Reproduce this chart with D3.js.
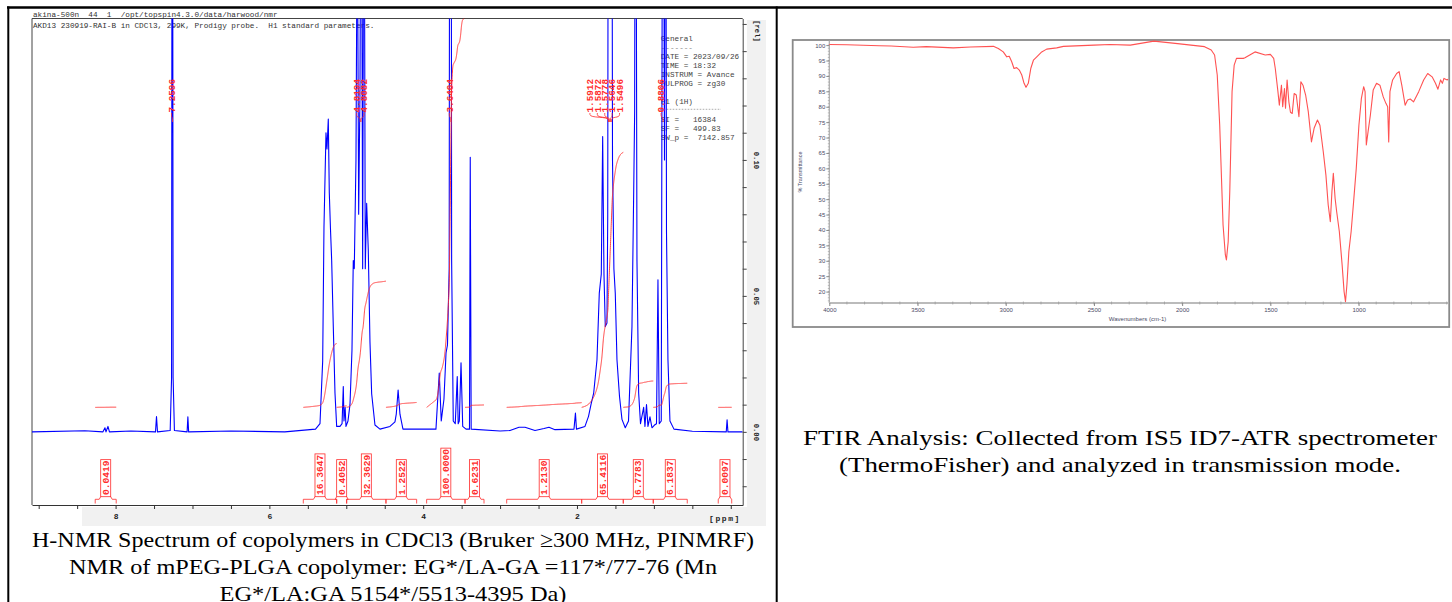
<!DOCTYPE html>
<html><head><meta charset="utf-8">
<script src="https://cdn.jsdelivr.net/npm/d3@7"></script>
<style>
html,body{margin:0;padding:0;background:#fff;}
svg{display:block;}
</style></head>
<body>
<svg id="c" width="1452" height="602"></svg>
<script>
// ================= DATA =================
// 1H NMR spectrum (ppm, relative intensity); values above 0.15 are off-scale (clipped)
const nmrPpm = [9.087,8.40,8.164,8.138,8.125,8.099,8.08,7.80,7.481,7.468,7.455,7.29,7.272,7.262,7.252,7.235,7.07,7.06,7.05,6.5,5.8,
 5.40,5.342,5.307,5.290,5.264,5.251,5.234,5.221,5.206,5.190,5.169,5.147,5.125,5.082,5.055,5.039,5.030,5.015,5.004,4.978,4.952,4.926,
 4.909,4.896,4.874,4.857,4.839,4.822,4.805,4.787,4.770,4.753,4.735,4.714,4.692,4.670,4.627,4.562,4.432,4.367,4.35,4.326,4.302,4.263,
 3.834,3.791,3.765,3.730,3.703,3.684,3.662,3.652,3.640,3.630,3.609,3.583,3.557,3.545,3.530,3.508,3.486,3.443,3.398,3.388,3.376,
 3.0,2.871,2.754,2.676,2.546,2.429,2.364,2.286,2.039,2.020,2.007,1.896,1.850,1.818,1.783,1.740,1.710,1.684,1.666,1.649,1.632,1.610,
 1.600,1.5912,1.589,1.5872,1.582,1.5778,1.571,1.5646,1.557,1.5496,1.538,1.520,1.502,1.480,1.447,1.415,1.372,1.330,1.285,1.263,1.250,
 1.239,1.220,1.198,1.174,1.133,1.116,1.096,1.077,1.051,1.025,0.992,0.966,0.947,0.930,0.904,0.882,0.862,0.849,0.836,0.817,0.791,0.739,
 0.5,0.059,0.048,0.037,-0.155];
const nmrInt = [0,0.0004,0,0.0015,0,0.002,0,0.0003,0,0.0056,0,0.0005,0.02,0.35,0.02,0.0005,0,0.0055,0,0.0003,0,
 0.001,0.003,0.026,0.0755,0.11,0.104,0.115,0.088,0.075,0.063,0.0387,0.0143,0.002,0.002,0.003,0.0167,0.004,0.009,0.002,0.004,0.01,0.03,
 0.063,0.06,0.10,0.20,0.08,0.125,0.25,0.06,0.25,0.06,0.084,0.067,0.033,0.014,0.0025,0.001,0.002,0.0037,0.0065,0.0154,0.0065,0.001,
 0.001,0.0216,0.004,0.012,0.029,0.032,0.06,0.35,0.35,0.063,0.004,0.003,0.0203,0.003,0.004,0.0254,0.002,0.001,0.001,0.101,0.001,
 0.0003,0.0005,0.0017,0.0017,0.0005,0.0012,0.0017,0.0008,0.001,0.0069,0.001,0.002,0.0057,0.01,0.0142,0.0265,0.051,0.058,0.1086,0.058,0.0387,0.04,
 0.08,0.3,0.22,0.3,0.22,0.3,0.2,0.3,0.2,0.3,0.1,0.06,0.051,0.0265,0.013,0.0046,0.0015,0.004,0.0387,0.087,0.118,
 0.3,0.063,0.0143,0.003,0.009,0.002,0.01,0.002,0.0055,0.0015,0.0025,0.003,0.0559,0.003,0.004,0.3,0.1,0.3,0.0735,0.0265,0.004,0.001,
 0.0002,0,0.0044,0,0];

// integrals (ppm range and value)
const integralFrom  = [8.265,5.559,5.125,4.995,4.484,3.955,3.456,2.914,1.939,1.398,1.008,0.163];
const integralTo    = [7.992,5.125,4.995,4.484,4.085,3.456,3.209,1.939,1.398,1.008,0.566,-0.012];
const integralValue = [0.0419,16.3647,0.4052,32.3629,1.2522,100.0000,0.6231,1.2130,65.4116,6.7783,6.1837,0.0097];
const integralText  = ["0.0419","16.3647","0.4052","32.3629","1.2522","100.0000","0.6231","1.2130","65.4116","6.7783","6.1837","0.0097"];

// picked peaks
const peakLabels = ["7.2596","4.8194","4.8082","3.6404","1.5912","1.5872","1.5778","1.5646","1.5496","0.8806"];

// NMR axis ticks
const nmrXTicks = [9,8.5,8,7.5,7,6.5,6,5.5,5,4.5,4,3.5,3,2.5,2,1.5,1,0.5,0];
const nmrXTickLabels = [8,6,4,2];
const nmrYTicks = [-0.02,-0.01,0,0.01,0.02,0.03,0.04,0.05,0.06,0.07,0.08,0.09,0.10,0.11,0.12,0.13,0.14,0.15];
const nmrYTickLabels = [0,0.05,0.10];

// acquisition text
const headerLines = ["akina-500n  44  1  /opt/topspin4.3.0/data/harwood/nmr",
  "AKD13 230919-RAI-B in CDCl3, 299K, Prodigy probe.  H1 standard parameters."];
const paramLines = ["General","-------","DATE = 2023/09/26","TIME = 18:32","INSTRUM = Avance","PULPROG = zg30","","F1 (1H)","","SI =   16384","SF =   499.83","SW_p =  7142.857"];

// FTIR spectrum (wavenumber cm-1, % transmittance)
const ftirWn = [4000,3901,3716,3650,3524,3450,3297,3200,3070,3042,3014,2994,2980,2966,2953,2938,2923,2909,2896,2885,2872,2858,2843,2824,2796,2768,2711,2673,2500,2409,2294,2160,2026,1950,1873,1835,1816,1801,1787,1768,1755,1749,1739,1730,1717,1705,1692,1653,1644,1587,1529,1500,1481,1472,1457,1449,1437,1430,1420,1414,1405,1395,1386,1376,1365,1353,1346,1338,1327,1315,1300,1285,1267,1252,1233,1219,1200,1185,1172,1160,1151,1143,1133,1124,1109,1093,1082,1074,1066,1055,1042,1028,1013,998,984,971,963,956,946,933,917,898,879,860,845,835,829,822,807,784,770,755,736,722,707,688,659,631,608,583,564,550,535,525,516,497,493];
const ftirT  = [100.2,100.1,99.8,99.7,99.3,99.5,99.1,99.4,99.6,98.9,97.8,96.2,96.4,94.6,92.4,92.7,91.9,90.3,87.6,86.3,87.6,92.4,95.1,96.2,97.8,98.7,99.1,99.6,100.0,100.2,100.0,101.3,100.5,100.0,99.5,98.4,96.8,90.3,74.0,41.6,31.9,30.3,36.2,52.4,84.9,93.5,95.7,95.7,95.9,97.8,96.8,97.0,95.7,92.4,84.9,80.5,87.0,80.0,85.9,79.5,88.7,81.6,78.2,77.8,84.3,83.8,80.5,76.8,88.1,87.0,83.8,78.4,68.6,73.0,75.7,74.0,65.4,57.8,48.1,42.7,52.4,58.4,50.3,45.9,39.5,28.6,20.0,16.7,22.2,33.0,39.5,49.2,60.0,74.0,82.7,86.5,84.9,67.6,71.9,77.3,85.4,87.6,87.0,83.2,81.1,80.0,68.6,84.9,88.7,90.8,91.4,87.0,80.5,82.2,82.5,81.6,84.9,88.7,90.8,89.7,87.6,85.7,88.7,87.6,89.2,88.7,89.0];
const ftirXTicks = [4000,3500,3000,2500,2000,1500,1000];
const ftirYTicks = [20,25,30,35,40,45,50,55,60,65,70,75,80,85,90,95,100];

const nmrCaption = ["H-NMR Spectrum of copolymers in CDCl3 (Bruker \u2265300 MHz, PINMRF)",
  "NMR of mPEG-PLGA copolymer: EG*/LA-GA =117*/77-76 (Mn",
  "EG*/LA:GA 5154*/5513-4395 Da)"];
const ftirCaption = ["FTIR Analysis: Collected from IS5 ID7-ATR spectrometer",
  "(ThermoFisher) and analyzed in transmission mode."];

// ================= LAYOUT =================
const svg = d3.select('#c');
const MONO = "'Liberation Mono','DejaVu Sans Mono',monospace";
const SERIF = "'Liberation Serif','Times New Roman',serif";
const SANS = "'Liberation Sans',Arial,sans-serif";
const RED = "#ff2b2b";

// table borders
svg.append('line').attr('x1',7).attr('x2',1452).attr('y1',7.5).attr('y2',7.5).attr('stroke','#000').attr('stroke-width',2.5);
svg.append('line').attr('x1',8.3).attr('x2',8.3).attr('y1',6.5).attr('y2',602).attr('stroke','#000').attr('stroke-width',2);
svg.append('line').attr('x1',776.7).attr('x2',776.7).attr('y1',6.5).attr('y2',602).attr('stroke','#000').attr('stroke-width',2);

// ---------- NMR panel ----------
const P = {l:32, r:742.7, t:18.5, b:505};
const nx = d3.scaleLinear().domain([9.087,-0.155]).range([P.l,P.r]);
const ny = d3.scaleLinear().domain([-0.0269,0.152]).range([P.b,P.t]);

svg.append('rect').attr('x',747).attr('y',20).attr('width',19).attr('height',506).attr('fill','#f1f1f1');
svg.append('rect').attr('x',82).attr('y',507).attr('width',684).attr('height',19).attr('fill','#f1f1f1');

svg.append('defs').append('clipPath').attr('id','nclip').append('rect')
  .attr('x',P.l).attr('y',P.t).attr('width',P.r-P.l).attr('height',P.b-P.t);

// frame
svg.append('path').attr('d',`M${P.l},${P.b}V${P.t}H${P.r}`).attr('fill','none').attr('stroke','#444').attr('stroke-width',1);

// header
svg.selectAll('text.hdr').data(headerLines).enter().append('text')
  .attr('x',33).attr('y',(d,i)=>16.5+i*11.7).attr('font-family',MONO).attr('font-size',7.7)
  .attr('fill','#333').style('white-space','pre').text(d=>d);

// parameter block
svg.selectAll('text.par').data(paramLines).enter().append('text')
  .attr('x',660.7).attr('y',(d,i)=>40.5+i*9.0).attr('font-family',MONO).attr('font-size',7.7)
  .attr('fill',(d,i)=>i===1?'#888':'#444').style('white-space','pre').text(d=>d);
svg.append('line').attr('x1',660.7).attr('x2',721).attr('y1',109.3).attr('y2',109.3)
  .attr('stroke','#999').attr('stroke-width',0.8).attr('stroke-dasharray','1.6,1.4');

// spectrum
const g = svg.append('g').attr('clip-path','url(#nclip)');
const spec = nmrPpm.map((p,i)=>[p,nmrInt[i]]);
g.append('path').datum(spec).attr('fill','none').attr('stroke','#0000ff').attr('stroke-width',1.1)
  .attr('stroke-linejoin','round')
  .attr('d',d3.line().x(d=>nx(d[0])).y(d=>ny(d[1])));

// integral curves
const interp = d3.scaleLinear().domain(nmrPpm).range(nmrInt).clamp(true);
const intBase = 0.009, intScale = 0.001434, eps = 0.0008;
integralFrom.forEach((a,i)=>{
  const b = integralTo[i];
  const n = Math.max(20, Math.round((a-b)/0.001));
  const ps = d3.range(n+1).map(k=>a-(a-b)*k/n);
  const vs = ps.map(p=>Math.min(interp(p),0.2)+eps);
  const cum=[0];
  for(let k=1;k<=n;k++) cum.push(cum[k-1]+(vs[k]+vs[k-1])/2);
  const tot = cum[n];
  const pts = ps.map((p,k)=>[p, intBase + integralValue[i]*intScale*cum[k]/tot]);
  g.append('path').datum(pts).attr('fill','none').attr('stroke',RED).attr('stroke-width',0.9)
    .attr('d',d3.line().x(d=>nx(d[0])).y(d=>ny(d[1])));
});

// bottom axis
const xAx = svg.append('g').attr('transform',`translate(0,${P.b})`)
  .call(d3.axisBottom(nx).tickValues(nmrXTicks).tickSize(4).tickSizeOuter(0)
    .tickFormat(d=>nmrXTickLabels.includes(d)?String(d):''));
xAx.select('.domain').attr('stroke','#333');
xAx.selectAll('.tick line').attr('stroke','#333');
xAx.selectAll('.tick text').attr('y',8).attr('dy','0.71em').attr('font-family',MONO).attr('font-weight','bold')
  .attr('font-size',8).attr('fill','#222');
svg.append('text').attr('x',725).attr('y',520.5).attr('text-anchor','middle').attr('font-family',MONO)
  .attr('font-weight','bold').attr('font-size',8).attr('letter-spacing',1.6).attr('fill','#222').text('[ppm]');

// right axis
const yAx = svg.append('g').attr('transform',`translate(${P.r},0)`)
  .call(d3.axisRight(ny).tickValues(nmrYTicks).tickSize(4).tickSizeOuter(0)
    .tickFormat(d=>nmrYTickLabels.some(v=>Math.abs(v-d)<1e-9)?d3.format('.2f')(d):''));
yAx.select('.domain').attr('stroke','#444');
yAx.selectAll('.tick line').attr('stroke','#444');
yAx.selectAll('.tick text').attr('x',0).attr('dy',0).attr('font-family',MONO).attr('font-weight','bold')
  .attr('font-size',7.2).attr('fill','#222').attr('text-anchor','middle')
  .attr('transform','translate(11.5,0) rotate(90)');
svg.append('text').attr('transform','translate(754.5,31) rotate(90)').attr('text-anchor','middle')
  .attr('font-family',MONO).attr('font-weight','bold').attr('font-size',7.2).attr('fill','#222').text('[rel]');

// peak labels
const peakGroups = [[0],[1,2],[3],[4,5,6,7,8],[9]];
const groupShift = [-1,-0.3,-1.5,-5,-2];
const labelSpacing = 7.4;
peakGroups.forEach((grp,gi)=>{
  const xs = grp.map(k=>nx(parseFloat(peakLabels[k])));
  const c = d3.mean(xs)+groupShift[gi];
  grp.forEach((k,j)=>{
    const xl = c + (j-(grp.length-1)/2)*labelSpacing;
    const xp = xs[j];
    svg.append('text').attr('transform',`translate(${xl+3.2},112.5) rotate(-90)`)
      .attr('font-family',MONO).attr('font-weight','bold').attr('font-size',9.3).attr('fill',RED).text(peakLabels[k]);
    svg.append('path').attr('d',`M${xl},113V114.5C${xl},118.5 ${xp},116 ${xp},120V122`)
      .attr('fill','none').attr('stroke',RED).attr('stroke-width',0.8);
  });
});

// integral labels + brackets
integralFrom.forEach((a,i)=>{
  const x0 = nx(a), x1 = nx(integralTo[i]), cx = (x0+x1)/2;
  const t = svg.append('text').attr('transform',`translate(${cx+3.2},495) rotate(-90)`)
    .attr('font-family',MONO).attr('font-weight','bold').attr('font-size',9.6).attr('fill',RED).text(integralText[i]);
  const len = t.node().getComputedTextLength();
  svg.append('rect').attr('x',cx-5).attr('y',496.7-len-2.5).attr('width',10).attr('height',len+2.5)
    .attr('fill','none').attr('stroke',RED).attr('stroke-width',0.8);
  svg.append('path').attr('d',`M${x0},503.5V499.3H${cx-6.5}L${cx-5},496.7M${cx+5},496.7L${cx+6.5},499.3H${x1}V503.5`)
    .attr('fill','none').attr('stroke',RED).attr('stroke-width',0.8);
});

// NMR caption (stretched to the widths seen in the reference)
const nmrCapWidth = [722,648,347];
svg.selectAll('text.ncap').data(nmrCaption).enter().append('text')
  .attr('x',393).attr('y',(d,i)=>547+i*27).attr('text-anchor','middle').attr('font-family',SERIF)
  .attr('font-size',22).attr('fill','#000')
  .attr('textLength',(d,i)=>nmrCapWidth[i]).attr('lengthAdjust','spacingAndGlyphs').text(d=>d);

// ---------- FTIR panel ----------
const F = {l:829.3, r:1448, t:40.5, b:303};
const fx = d3.scaleLinear().domain([4000,493]).range([F.l,F.r]);
const fy = d3.scaleLinear().domain([16.3,101.5]).range([F.b,F.t]);

svg.append('rect').attr('x',792.7).attr('y',40).attr('width',656.5).attr('height',287)
  .attr('fill','none').attr('stroke','#8a8a8a').attr('stroke-width',1.8);
svg.append('line').attr('x1',F.l).attr('x2',F.l).attr('y1',F.t).attr('y2',F.b).attr('stroke','#aaa').attr('stroke-width',1.2);
svg.append('line').attr('x1',F.l).attr('x2',F.r).attr('y1',F.b).attr('y2',F.b).attr('stroke','#bbb').attr('stroke-width',2);

// minor ticks
const fyMinor = d3.range(17,101,1);
svg.selectAll('line.fym').data(fyMinor).enter().append('line')
  .attr('x1',F.l-1.5).attr('x2',F.l).attr('y1',d=>fy(d)).attr('y2',d=>fy(d)).attr('stroke','#999').attr('stroke-width',0.6);
const fxMinor = d3.range(3900,499,-100);
svg.selectAll('line.fxm').data(fxMinor).enter().append('line')
  .attr('x1',d=>fx(d)).attr('x2',d=>fx(d)).attr('y1',F.b-1.5).attr('y2',F.b+1.5).attr('stroke','#999').attr('stroke-width',0.7);

const fyAx = svg.append('g').attr('transform',`translate(${F.l},0)`)
  .call(d3.axisLeft(fy).tickValues(ftirYTicks).tickSize(3).tickSizeOuter(0).tickFormat(d3.format('d')));
fyAx.select('.domain').remove();
fyAx.selectAll('.tick line').attr('stroke','#888');
fyAx.selectAll('.tick text').attr('x',-4).attr('font-family',SANS).attr('font-size',6).attr('fill','#4a4a66');
const fxAx = svg.append('g').attr('transform',`translate(0,${F.b})`)
  .call(d3.axisBottom(fx).tickValues(ftirXTicks).tickSize(3).tickSizeOuter(0).tickFormat(d3.format('d')));
fxAx.select('.domain').remove();
fxAx.selectAll('.tick line').attr('stroke','#888');
fxAx.selectAll('.tick text').attr('y',5).attr('font-family',SANS).attr('font-size',6).attr('fill','#4a4a66');

svg.append('text').attr('transform','translate(801.5,172) rotate(-90)').attr('text-anchor','middle')
  .attr('font-family',SANS).attr('font-size',5.5).attr('fill','#4a4a66').text('% Transmittance');
svg.append('text').attr('x',1137.5).attr('y',320.5).attr('text-anchor','middle')
  .attr('font-family',SANS).attr('font-size',6).attr('fill','#4a4a66').text('Wavenumbers (cm-1)');

const ftir = ftirWn.map((w,i)=>[w,ftirT[i]]);
svg.append('path').datum(ftir).attr('fill','none').attr('stroke','#ff5252').attr('stroke-width',1.1)
  .attr('stroke-linejoin','round')
  .attr('d',d3.line().x(d=>fx(d[0])).y(d=>fy(d[1])));

// FTIR caption
const ftirCapWidth = [634,562];
svg.selectAll('text.fcap').data(ftirCaption).enter().append('text')
  .attr('x',1120).attr('y',(d,i)=>445+i*27).attr('text-anchor','middle').attr('font-family',SERIF)
  .attr('font-size',22).attr('fill','#000')
  .attr('textLength',(d,i)=>ftirCapWidth[i]).attr('lengthAdjust','spacingAndGlyphs').text(d=>d);
</script>
</body></html>
